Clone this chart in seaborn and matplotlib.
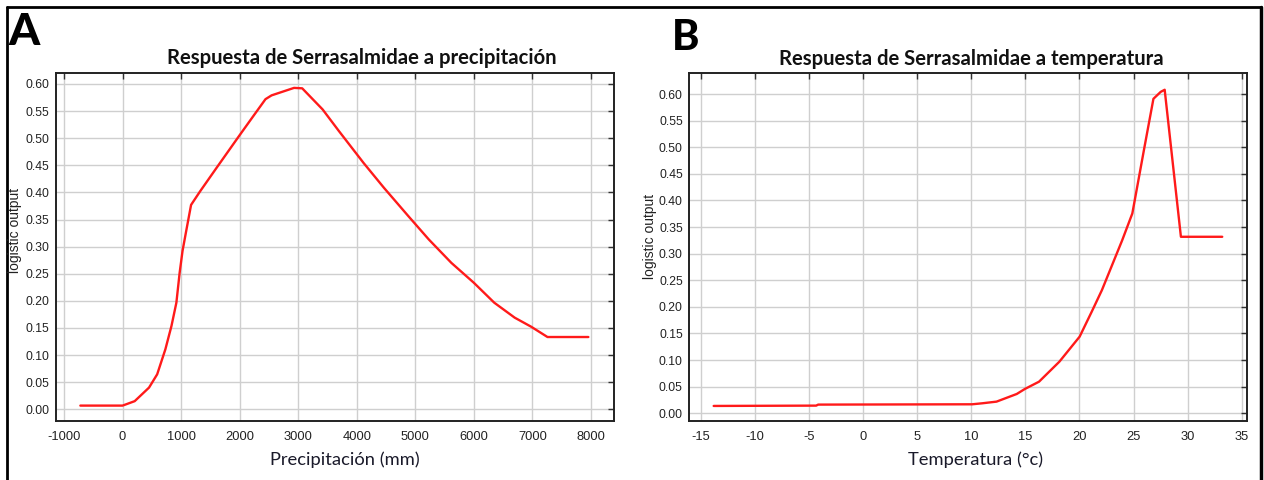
import matplotlib
matplotlib.use("Agg")
import matplotlib.pyplot as plt
from matplotlib.lines import Line2D
import seaborn as sns
import pandas as pd

# ---- data ----
precip_mm = [-721, 0, 207, 452, 591, 731, 835, 919, 975, 1024, 1080, 1170, 1324,
             1603, 1987, 2231, 2441, 2545, 2929, 3068, 3417, 3696, 4115, 4464,
             4883, 5232, 5616, 5999, 6348, 6697, 6978, 7257, 7955]
precip_resp = [0.0068, 0.0068, 0.0150, 0.040, 0.0645, 0.1106, 0.1536, 0.1966,
               0.252, 0.292, 0.325, 0.377, 0.402, 0.445, 0.5037, 0.5405, 0.572,
               0.579, 0.5928, 0.592, 0.553, 0.513, 0.4545, 0.4085, 0.356, 0.313,
               0.270, 0.2334, 0.1966, 0.169, 0.1523, 0.1333, 0.1333]

temp_c = [-13.8, -4.33, -4.14, 10.09, 11.03, 12.34, 14.21, 14.96, 16.27, 18.15,
          20.02, 21.14, 22.08, 23.01, 23.95, 24.89, 26.01, 26.84, 27.51, 27.88,
          29.38, 33.2]
temp_resp = [0.0138, 0.0144, 0.0163, 0.0169, 0.0188, 0.0219, 0.0363, 0.0457,
             0.0594, 0.097, 0.144, 0.191, 0.2315, 0.278, 0.325, 0.3755, 0.50,
             0.591, 0.604, 0.608, 0.3317, 0.3317]

precip_ticks = [-1000, 0, 1000, 2000, 3000, 4000, 5000, 6000, 7000, 8000]
temp_ticks = [-15, -10, -5, 0, 5, 10, 15, 20, 25, 30, 35]
y_ticks = [0.00, 0.05, 0.10, 0.15, 0.20, 0.25, 0.30, 0.35, 0.40, 0.45, 0.50, 0.55, 0.60]

title_a = "Respuesta de Serrasalmidae a precipitación"
title_b = "Respuesta de Serrasalmidae a temperatura"
xlabel_a = "Precipitación (mm)"
xlabel_b = "Temperatura (°c)"
ylabel = "logistic output"

# ---- style ----
sns.set_style("white")
plt.rcParams["font.family"] = ["Liberation Sans", "DejaVu Sans"]
plt.rcParams["axes.unicode_minus"] = False

W, H = 1264, 480
fig = plt.figure(figsize=(W / 100, H / 100), dpi=100)
fig.patch.set_facecolor("white")


def fx(px):
    return px / W


def fy(py):
    return 1 - py / H


def make_axes(left, right, top, bottom):
    return fig.add_axes([fx(left), fy(bottom), fx(right) - fx(left), (bottom - top) / H])


ax_a = make_axes(55.7, 614, 73.3, 421)
ax_b = make_axes(689, 1246.7, 73, 421)

df_a = pd.DataFrame({"x": precip_mm, "y": precip_resp})
df_b = pd.DataFrame({"x": temp_c, "y": temp_resp})

for ax, df, xt, xlim, ylim in [
    (ax_a, df_a, precip_ticks, (-1142, 8393), (-0.0216, 0.6197)),
    (ax_b, df_b, temp_ticks, (-16.08, 35.46), (-0.0145, 0.6395)),
]:
    ax.set_axisbelow(True)
    ax.grid(True, color="#cfcfcf", linewidth=1.0)
    sns.lineplot(data=df, x="x", y="y", ax=ax, color="#ff1a1a", linewidth=1.7,
                 sort=False, estimator=None)
    ax.set_xlim(*xlim)
    ax.set_ylim(*ylim)
    ax.set_xticks(xt)
    ax.set_xticklabels([str(v) for v in xt])
    ax.set_yticks(y_ticks)
    ax.set_yticklabels([f"{v:.2f}" for v in y_ticks])
    ax.tick_params(axis="both", direction="in", length=4, width=1, color="#333333",
                   top=True, right=True, labelcolor="#222222")
    ax.tick_params(axis="x", labelsize=9.3, pad=7)
    ax.tick_params(axis="y", labelsize=8.8, pad=4.5)
    for sp in ax.spines.values():
        sp.set_color("#222222")
        sp.set_linewidth(1.4)
    ax.set_xlabel("")
    ax.set_ylabel("")

# titles
title_kw = dict(ha="center", va="baseline", fontsize=14.6, fontweight="bold",
                family=["Lato", "DejaVu Sans"], color="#111111")
fig.text(fx(362), fy(64), title_a, **title_kw)
fig.text(fx(971.5), fy(65), title_b, **title_kw)

# x labels
xl_kw = dict(ha="center", va="baseline", fontsize=13.2,
             family=["Lato", "DejaVu Sans"], color="#1a1a2a")
fig.text(fx(345), fy(465), xlabel_a, **xl_kw)
fig.text(fx(976), fy(465), xlabel_b, **xl_kw)

# y labels
yl_kw = dict(ha="center", va="center", rotation=90, fontsize=10, color="#222222")
fig.text(fx(15.5), fy(230), ylabel, **yl_kw)
fig.text(fx(650), fy(236), ylabel, **yl_kw)

# panel letters
fig.text(fx(8), fy(45), "A", ha="left", va="baseline", fontsize=32,
         fontweight="black", family=["Lato", "DejaVu Sans"], color="black")
fig.text(fx(672), fy(50), "B", ha="left", va="baseline", fontsize=30,
         fontweight="black", family=["Lato", "DejaVu Sans"], color="black")

# outer frame (top, left, right)
frame_kw = dict(color="black", linewidth=2.0, transform=fig.transFigure)
fig.add_artist(Line2D([fx(6.7), fx(1261)], [fy(6.7), fy(6.7)], **frame_kw))
fig.add_artist(Line2D([fx(6.7), fx(6.7)], [fy(6.7), 0], **frame_kw))
fig.add_artist(Line2D([fx(1261), fx(1261)], [fy(6.7), 0], **dict(frame_kw, linewidth=2.5)))

fig.savefig("out.png", dpi=100, facecolor="white")
